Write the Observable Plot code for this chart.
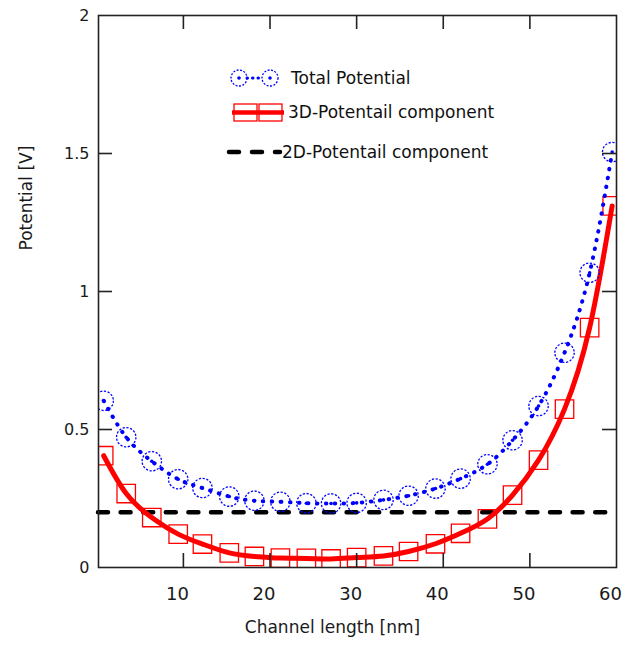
<!DOCTYPE html>
<html>
<head>
<meta charset="utf-8">
<script src="https://cdn.jsdelivr.net/npm/d3@7"></script>
<script src="https://cdn.jsdelivr.net/npm/@observablehq/plot@0.6"></script>
<style>
  html, body { margin: 0; padding: 0; background: #fff; }
  #wrap { position: relative; width: 624px; height: 645px; }
  #legend { position: absolute; left: 0; top: 0; pointer-events: none; }
</style>
</head>
<body>
<div id="wrap"></div>
<script>
// Channel positions (nm) of the markers
const xValues = [0.8, 3.4, 6.35, 9.4, 12.2, 15.3, 18.2, 21.2, 24.2, 27.05, 30.0,
                 33.1, 36.0, 39.1, 42.0, 45.1, 48.0, 51.0, 54.0, 56.9, 59.5];
// Total Potential [V]
const totalValues = [0.604, 0.472, 0.385, 0.320, 0.288, 0.257, 0.242, 0.238, 0.233, 0.232, 0.234,
                     0.245, 0.260, 0.286, 0.322, 0.374, 0.461, 0.585, 0.778, 1.068, 1.505];
// 3D-Potentail component [V]
const threeDValues = [0.405, 0.268, 0.181, 0.121, 0.085, 0.053, 0.040, 0.034, 0.033, 0.031, 0.036,
                      0.042, 0.058, 0.086, 0.124, 0.176, 0.262, 0.389, 0.574, 0.869, 1.310];
// 2D-Potentail component [V] (constant)
const twoDLevel = [0.2];

const xTicks = [10, 20, 30, 40, 50, 60];
const yTicks = [0, 0.5, 1, 1.5, 2];
const xDomain = [0.2, 60];
const yDomain = [0, 2];

const seriesNames = ["Total Potential", "3D-Potentail component", "2D-Potentail component"];

const total = xValues.map((x, i) => ({x, y: totalValues[i]}));
const threeD = xValues.map((x, i) => ({x, y: threeDValues[i]}));

const innerW = 624 - 98 - 8;
const innerH = 645 - 15 - 78;
const innerXTicks = xTicks.filter(d => d > xDomain[0] && d < xDomain[1]);
const innerYTicks = yTicks.filter(d => d > yDomain[0] && d < yDomain[1]);

const chart = Plot.plot({
  width: 624,
  height: 645,
  marginLeft: 98,
  marginRight: 8,
  marginTop: 15,
  marginBottom: 78,
  x: {domain: xDomain},
  y: {domain: yDomain},
  style: {fontFamily: "'DejaVu Sans', sans-serif", fontSize: "16px", color: "#1a1a1a", background: "#fff"},
  marks: [
    Plot.ruleY(twoDLevel, {stroke: "#000", strokeWidth: 4.5, strokeDasharray: "10,12.6", strokeLinecap: "round"}),
    Plot.line(threeD, {x: "x", y: "y", stroke: "#ff0000", strokeWidth: 5, curve: "natural", clip: true}),
    Plot.dot(threeD, {x: "x", y: "y", symbol: "square", r: 10.4, stroke: "#ff0000", strokeWidth: 1.3, fill: "none", clip: true}),
    Plot.line(total, {x: "x", y: "y", stroke: "#0000ff", strokeWidth: 4, strokeDasharray: "0.5,8.5", strokeLinecap: "round", curve: "natural", clip: true}),
    Plot.dot(total, {x: "x", y: "y", r: 9.7, stroke: "#0000ff", strokeWidth: 1.3, strokeDasharray: "2.2,1.6", fill: "none", clip: true}),
    Plot.dot(total, {x: "x", y: "y", r: 1.8, fill: "#0000ff", stroke: "none", clip: true}),
    // inward ticks on all four sides
    Plot.tickX(innerXTicks, {x: d => d, insetTop: innerH - 14, stroke: "#222", strokeWidth: 1.6}),
    Plot.tickX(innerXTicks, {x: d => d, insetBottom: innerH - 14, stroke: "#222", strokeWidth: 1.6}),
    Plot.tickY(innerYTicks, {y: d => d, insetRight: innerW - 14, stroke: "#222", strokeWidth: 1.6}),
    Plot.tickY(innerYTicks, {y: d => d, insetLeft: innerW - 14, stroke: "#222", strokeWidth: 1.6}),
    Plot.frame({stroke: "#222", strokeWidth: 1.6}),
    Plot.axisY(yTicks, {tickSize: 0, tickPadding: 9, label: null, fontSize: 16, tickFormat: d => String(d)}),
    Plot.axisX(xTicks, {tickSize: 0, tickPadding: 20, label: null, fontSize: 18, dx: -6, tickFormat: d => String(d)}),
    Plot.text(["Potential [V]"], {text: d => d, frameAnchor: "left", dx: -72, dy: -41, rotate: -90, fontSize: 17, fill: "#1a1a1a"}),
    Plot.text(["Channel length [nm]"], {text: d => d, frameAnchor: "bottom", dx: -25, dy: 65, fontSize: 17, fill: "#1a1a1a"})
  ]
});

const wrap = document.getElementById("wrap");
wrap.appendChild(chart);

// Legend overlay
const svg = d3.select(wrap).append("svg")
  .attr("id", "legend").attr("width", 624).attr("height", 645)
  .style("font-family", "'DejaVu Sans', sans-serif").style("font-size", "17px");

// Total Potential
const g1 = svg.append("g");
g1.append("line").attr("x1", 247).attr("x2", 262).attr("y1", 78).attr("y2", 78)
  .attr("stroke", "#0000ff").attr("stroke-width", 3).attr("stroke-dasharray", "0.5,5").attr("stroke-linecap", "round");
[239, 270].forEach(cx => {
  g1.append("circle").attr("cx", cx).attr("cy", 78).attr("r", 8)
    .attr("fill", "none").attr("stroke", "#0000ff").attr("stroke-width", 1.3).attr("stroke-dasharray", "2,1.5");
  g1.append("circle").attr("cx", cx).attr("cy", 78).attr("r", 1.8).attr("fill", "#0000ff");
});
g1.append("text").attr("x", 291).attr("y", 78).attr("dy", "0.35em").attr("fill", "#111").text(seriesNames[0]);

// 3D component
const g2 = svg.append("g");
[234, 259].forEach(x0 => {
  g2.append("rect").attr("x", x0).attr("y", 104).attr("width", 23).attr("height", 17)
    .attr("fill", "none").attr("stroke", "#ff0000").attr("stroke-width", 1.3);
});
g2.append("line").attr("x1", 232).attr("x2", 284).attr("y1", 112.5).attr("y2", 112.5)
  .attr("stroke", "#ff0000").attr("stroke-width", 4.5);
g2.append("text").attr("x", 288).attr("y", 112).attr("dy", "0.35em").attr("fill", "#111").text(seriesNames[1]);

// 2D component
const g3 = svg.append("g");
g3.append("line").attr("x1", 229).attr("x2", 280).attr("y1", 152).attr("y2", 152)
  .attr("stroke", "#000").attr("stroke-width", 4.5).attr("stroke-dasharray", "10,13").attr("stroke-linecap", "round");
g3.append("text").attr("x", 282).attr("y", 152).attr("dy", "0.35em").attr("fill", "#111").text(seriesNames[2]);
</script>
</body>
</html>
